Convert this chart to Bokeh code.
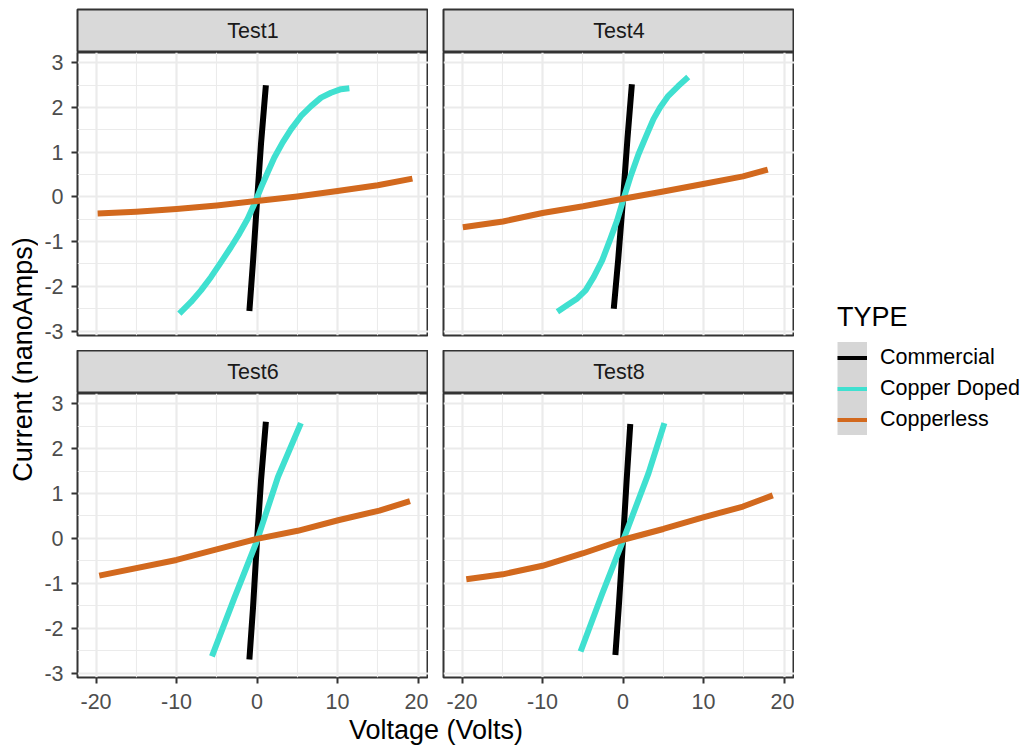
import math
from bokeh.plotting import figure
from bokeh.models import Range1d, LinearAxis, Grid, FixedTicker, Label, Legend, LegendItem
from bokeh.layouts import row, column
from bokeh.embed import file_html
from bokeh.resources import INLINE

# ---------------- data ----------------
tests = ["Test1", "Test4", "Test6", "Test8"]
types = ["Commercial", "Copper Doped", "Copperless"]
type_colors = ["#000000", "#40E0D0", "#D2691E"]

x_ticks = [-20, -10, 0, 10, 20]
x_minor = [-15, -5, 5, 15]
y_ticks = [-3, -2, -1, 0, 1, 2, 3]
y_minor = [-2.5, -1.5, -0.5, 0.5, 1.5, 2.5]

# Test1
t1_commercial_v = [-0.95, -0.5, 0.0, 0.5, 1.1]
t1_commercial_i = [-2.55, -1.45, -0.1, 1.2, 2.5]
t1_doped_v = [-9.65, -8.20, -6.96, -5.71, -4.47, -3.23, -2.19, -1.16, -0.33, 0.50,
              1.33, 2.15, 3.19, 4.22, 5.47, 6.71, 7.95, 9.19, 10.43, 11.47]
t1_doped_i = [-2.61, -2.35, -2.09, -1.79, -1.46, -1.12, -0.82, -0.49, -0.16, 0.21,
              0.55, 0.88, 1.22, 1.51, 1.81, 2.03, 2.22, 2.33, 2.41, 2.43]
t1_copperless_v = [-19.8, -15, -10, -5, 0, 5, 10, 15, 19.3]
t1_copperless_i = [-0.37, -0.33, -0.27, -0.19, -0.09, 0.01, 0.13, 0.26, 0.41]

# Test4
t4_commercial_v = [-1.15, -0.6, 0.0, 0.55, 1.1]
t4_commercial_i = [-2.5, -1.4, -0.05, 1.3, 2.52]
t4_doped_v = [-8.15, -6.91, -5.68, -4.65, -3.63, -2.59, -1.57, -0.74, 0.0, 0.90,
              1.93, 2.96, 3.78, 4.60, 5.63, 6.86, 8.10]
t4_doped_i = [-2.57, -2.42, -2.27, -2.09, -1.79, -1.42, -0.94, -0.53, -0.08, 0.44,
              0.96, 1.40, 1.74, 2.00, 2.26, 2.48, 2.68]
t4_copperless_v = [-19.9, -14.9, -10.0, -4.94, 0.0, 5.0, 9.95, 14.9, 17.98]
t4_copperless_i = [-0.68, -0.55, -0.36, -0.21, -0.04, 0.12, 0.29, 0.46, 0.61]

# Test6
t6_commercial_v = [-0.95, -0.5, 0.0, 0.5, 1.1]
t6_commercial_i = [-2.7, -1.55, -0.05, 1.3, 2.6]
t6_doped_v = [-5.6, -2.8, 0.0, 2.6, 5.45]
t6_doped_i = [-2.63, -1.32, -0.05, 1.37, 2.57]
t6_copperless_v = [-19.6, -10.0, -4.9, 0.0, 5.05, 10.2, 15.2, 19.0]
t6_copperless_i = [-0.83, -0.48, -0.24, -0.01, 0.17, 0.41, 0.62, 0.83]

# Test8
t8_commercial_v = [-0.95, -0.5, 0.0, 0.45, 0.9]
t8_commercial_i = [-2.6, -1.45, -0.05, 1.3, 2.55]
t8_doped_v = [-5.27, -2.6, 0.0, 3.16, 5.14]
t8_doped_i = [-2.52, -1.24, -0.05, 1.45, 2.57]
t8_copperless_v = [-19.47, -14.94, -10.0, -4.94, 0.0, 5.01, 9.95, 14.9, 18.6]
t8_copperless_i = [-0.91, -0.80, -0.61, -0.33, -0.03, 0.21, 0.47, 0.71, 0.96]

series = {
    "Test1": [(t1_commercial_v, t1_commercial_i), (t1_doped_v, t1_doped_i), (t1_copperless_v, t1_copperless_i)],
    "Test4": [(t4_commercial_v, t4_commercial_i), (t4_doped_v, t4_doped_i), (t4_copperless_v, t4_copperless_i)],
    "Test6": [(t6_commercial_v, t6_commercial_i), (t6_doped_v, t6_doped_i), (t6_copperless_v, t6_copperless_i)],
    "Test8": [(t8_commercial_v, t8_commercial_i), (t8_doped_v, t8_doped_i), (t8_copperless_v, t8_copperless_i)],
}

# ---------------- styling ----------------
FONT = "Liberation Sans"
X_RANGE = (-22.3, 21.3)
Y_RANGE = (-3.1, 3.23)
FRAME_W = 351
LEFT_W = 39
GAP = 15
YLAB_W = 38
TOP_PAD = 9
TOTAL_H = 749
STRIP_H = 43


def make_panel(name, left_axis, bottom_axis, frame_h):
    mbl = LEFT_W if left_axis else GAP
    mbb = 36 if bottom_axis else GAP
    p = figure(width=mbl + FRAME_W, height=frame_h + mbb,
               x_range=Range1d(*X_RANGE), y_range=Range1d(*Y_RANGE),
               x_axis_type=None, y_axis_type=None,
               output_backend="svg", toolbar_location=None,
               min_border=0, min_border_left=mbl, min_border_right=0,
               min_border_top=0, min_border_bottom=mbb,
               background_fill_color="white", border_fill_color="white",
               outline_line_color="#333333", outline_line_width=2)
    p.add_layout(Grid(dimension=0, ticker=FixedTicker(ticks=x_ticks, minor_ticks=x_minor),
                      grid_line_color="#EBEBEB", grid_line_width=2.2,
                      minor_grid_line_color="#EBEBEB", minor_grid_line_width=1.1))
    p.add_layout(Grid(dimension=1, ticker=FixedTicker(ticks=y_ticks, minor_ticks=y_minor),
                      grid_line_color="#EBEBEB", grid_line_width=2.2,
                      minor_grid_line_color="#EBEBEB", minor_grid_line_width=1.1))
    common = dict(axis_line_color=None, major_tick_in=0, major_tick_out=6,
                  major_tick_line_color="#333333", major_tick_line_width=2,
                  minor_tick_line_color=None,
                  major_label_text_font=FONT, major_label_text_font_size="21.5px",
                  major_label_text_color="#4D4D4D")
    if left_axis:
        ya = LinearAxis(ticker=FixedTicker(ticks=y_ticks),
                        major_label_overrides={t: str(t) for t in y_ticks},
                        major_label_standoff=8, **common)
        p.add_layout(ya, "left")
    if bottom_axis:
        xa = LinearAxis(ticker=FixedTicker(ticks=x_ticks),
                        major_label_overrides={t: str(t) for t in x_ticks},
                        major_label_standoff=10, **common)
        p.add_layout(xa, "below")
    for (v, i), c in zip(series[name], type_colors):
        p.line(v, i, line_color=c, line_width=6, line_join="round")
    return p


def make_strip(name, left_axis, top_pad):
    mbl = LEFT_W if left_axis else GAP
    s = figure(width=mbl + FRAME_W, height=STRIP_H + top_pad,
               x_range=Range1d(0, 1), y_range=Range1d(0, 1),
               x_axis_type=None, y_axis_type=None,
               output_backend="svg", toolbar_location=None,
               min_border=0, min_border_left=mbl, min_border_right=0,
               min_border_top=top_pad, min_border_bottom=0,
               background_fill_color="#D9D9D9", border_fill_color="white",
               outline_line_color="#333333", outline_line_width=2)
    s.add_layout(Label(x=0.5, y=0.5, text=name, text_align="center", text_baseline="middle",
                       text_font=FONT, text_font_size="21.5px", text_color="#1A1A1A"))
    return s


s1 = make_strip("Test1", True, TOP_PAD)
s4 = make_strip("Test4", False, TOP_PAD)
p1 = make_panel("Test1", True, False, 283)
p4 = make_panel("Test4", False, False, 283)
s6 = make_strip("Test6", True, 0)
s8 = make_strip("Test8", False, 0)
p6 = make_panel("Test6", True, True, 284)
p8 = make_panel("Test8", False, True, 284)

used_h = (STRIP_H + TOP_PAD) + (283 + GAP) + STRIP_H + (284 + 36)
panels_w = LEFT_W + FRAME_W + GAP + FRAME_W

# x axis title
xlab_h = TOTAL_H - used_h
xlab = figure(width=panels_w, height=xlab_h,
              x_range=Range1d(0, 1), y_range=Range1d(0, 1),
              x_axis_type=None, y_axis_type=None, output_backend="svg",
              toolbar_location=None, min_border=0, outline_line_color=None)
xlab.add_layout(Label(x=(LEFT_W + panels_w) / 2.0, y=TOTAL_H - 729, x_units="screen", y_units="screen",
                      text="Voltage (Volts)", text_align="center", text_baseline="middle",
                      text_font=FONT, text_font_size="27px", text_color="#000000"))

# y axis title
ylab = figure(width=YLAB_W, height=TOTAL_H,
              x_range=Range1d(0, 1), y_range=Range1d(0, 1),
              x_axis_type=None, y_axis_type=None, output_backend="svg",
              toolbar_location=None, min_border=0, outline_line_color=None)
ylab.add_layout(Label(x=22, y=TOTAL_H - 359, x_units="screen", y_units="screen",
                      text="Current (nanoAmps)", angle=math.pi / 2,
                      text_align="center", text_baseline="middle",
                      text_font=FONT, text_font_size="27px", text_color="#000000"))

# legend (its renderers use the Test1 data but sit outside the visible range)
leg_fig = figure(width=227, height=TOTAL_H,
                 x_range=Range1d(1000, 1001), y_range=Range1d(1000, 1001),
                 x_axis_type=None, y_axis_type=None, output_backend="svg",
                 toolbar_location=None, min_border=0, outline_line_color=None)
items = []
for t, c, (v, i) in zip(types, type_colors, series["Test1"]):
    band = leg_fig.line(x=v, y=i, line_color="#D6D6D6", line_width=32)
    ln = leg_fig.line(x=v, y=i, line_color=c, line_width=4)
    items.append(LegendItem(label=t, renderers=[band, ln]))
legend = Legend(items=items, title="TYPE", location=(43, TOTAL_H - 435),
                title_text_font=FONT, title_text_font_size="27px",
                title_text_font_style="normal", title_text_color="#000000",
                title_standoff=9,
                label_text_font=FONT, label_text_font_size="21.5px",
                label_text_color="#000000", label_standoff=13,
                glyph_width=30, glyph_height=31, label_height=31,
                spacing=0, padding=0, margin=0,
                border_line_color=None, background_fill_alpha=0)
leg_fig.add_layout(legend, "center")

layout = row(ylab,
             column(row(s1, s4), row(p1, p4), row(s6, s8), row(p6, p8), xlab),
             leg_fig)

open("out.html", "w").write(file_html(layout, INLINE))
